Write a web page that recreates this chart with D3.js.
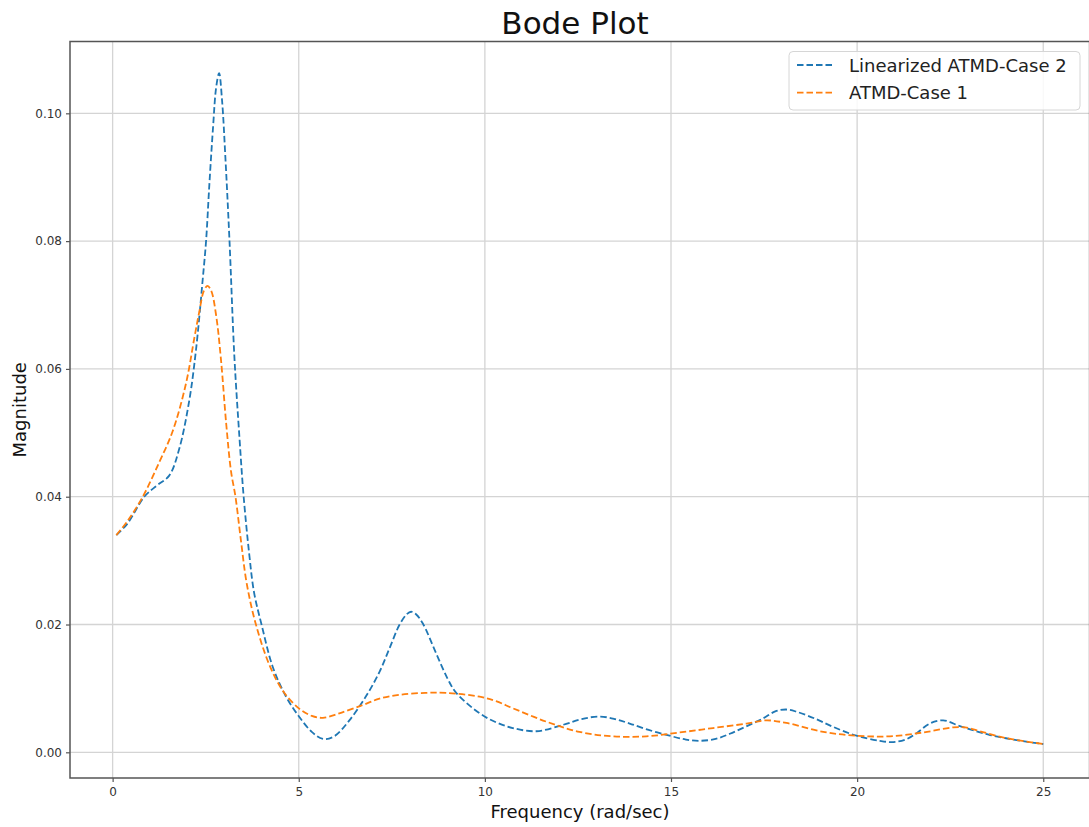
<!DOCTYPE html>
<html>
<head>
<meta charset="utf-8">
<script src="https://cdn.jsdelivr.net/npm/d3@7"></script>
<style>
  html, body { margin: 0; padding: 0; background: #fff; }
  svg { display: block; font-family: "DejaVu Sans", sans-serif; }
</style>
</head>
<body>
<svg id="chart" width="1089" height="827"></svg>
<script>
// Frequency response of the two damper configurations
const seriesNames = ["Linearized ATMD-Case 2", "ATMD-Case 1"];
const seriesColors = ["#1f77b4", "#ff7f0e"];

const freqCase2 = [0.1, 0.4, 0.85, 1.2, 1.52, 1.79, 2.06, 2.24, 2.42, 2.51, 2.6, 2.7, 2.78, 2.86, 2.94, 3.03, 3.14, 3.27, 3.41, 3.52, 3.67, 3.8, 4.0, 4.3, 4.66, 5.02, 5.35, 5.65, 5.95, 6.36, 6.81, 7.17, 7.44, 7.71, 7.9, 8.02, 8.15, 8.33, 8.69, 9.0, 9.23, 9.86, 10.3, 10.75, 11.38, 12.1, 12.6, 13.08, 13.5, 13.89, 14.4, 14.96, 15.4, 15.77, 16.2, 16.58, 17.0, 17.47, 17.8, 18.1, 18.4, 18.9, 19.35, 19.98, 20.61, 20.97, 21.3, 21.6, 21.95, 22.31, 22.76, 23.2, 23.57, 24.0, 24.5, 25.0];
const magCase2 = [0.0340, 0.0358, 0.0400, 0.0418, 0.0433, 0.0475, 0.0551, 0.0630, 0.0740, 0.0800, 0.0890, 0.0980, 0.1040, 0.1063, 0.1020, 0.0930, 0.0800, 0.0620, 0.0490, 0.0400, 0.0310, 0.0250, 0.0200, 0.0134, 0.0087, 0.0055, 0.0032, 0.0021, 0.0025, 0.0050, 0.0088, 0.0126, 0.0163, 0.0200, 0.0216, 0.0220, 0.0216, 0.0202, 0.0155, 0.0115, 0.0093, 0.0061, 0.0047, 0.0038, 0.0033, 0.0043, 0.0052, 0.0056, 0.0052, 0.0045, 0.0035, 0.0026, 0.0020, 0.0018, 0.0021, 0.0029, 0.0040, 0.0053, 0.0064, 0.0067, 0.0063, 0.0052, 0.0040, 0.0026, 0.0018, 0.0016, 0.0020, 0.0030, 0.0045, 0.0050, 0.0041, 0.0033, 0.0027, 0.0022, 0.0017, 0.0013];

const freqCase1 = [0.1, 0.4, 0.81, 1.26, 1.61, 1.97, 2.2, 2.33, 2.45, 2.55, 2.65, 2.78, 2.91, 3.05, 3.18, 3.3, 3.45, 3.6, 3.84, 4.21, 4.6, 5.02, 5.35, 5.65, 6.09, 6.72, 7.17, 7.71, 8.4, 8.96, 9.86, 10.3, 10.75, 11.65, 12.54, 13.44, 14.34, 15.23, 16.13, 17.03, 17.56, 18.1, 19.09, 19.98, 20.88, 21.77, 22.58, 22.9, 23.3, 24.02, 25.0];
const magCase1 = [0.0340, 0.0362, 0.0400, 0.0455, 0.0502, 0.0577, 0.0650, 0.0690, 0.0722, 0.0730, 0.0722, 0.0684, 0.0615, 0.0515, 0.0440, 0.0400, 0.0330, 0.0265, 0.0202, 0.0137, 0.0094, 0.0068, 0.0057, 0.0054, 0.0061, 0.0074, 0.0084, 0.0090, 0.0093, 0.0093, 0.0087, 0.0080, 0.0069, 0.0048, 0.0032, 0.0025, 0.0025, 0.0031, 0.0038, 0.0045, 0.0050, 0.0046, 0.0032, 0.0026, 0.0025, 0.0031, 0.0039, 0.0039, 0.0033, 0.0022, 0.0013];

const xTicks = [0, 5, 10, 15, 20, 25];
const yTicks = [0.00, 0.02, 0.04, 0.06, 0.08, 0.10];

const svg = d3.select("#chart");
const plot = { left: 70, right: 1089.6, top: 41.5, bottom: 778 };

const x = d3.scaleLinear().domain([-1.145, 26.245]).range([plot.left, plot.right]);
const y = d3.scaleLinear().domain([-0.00402, 0.11124]).range([plot.bottom, plot.top]);

const series = [
  { name: seriesNames[0], color: seriesColors[0], pts: freqCase2.map((f, i) => [f, magCase2[i]]) },
  { name: seriesNames[1], color: seriesColors[1], pts: freqCase1.map((f, i) => [f, magCase1[i]]) }
];

// grid
const grid = svg.append("g").attr("stroke", "#d4d4d4").attr("stroke-width", 1.3);
xTicks.forEach(t => grid.append("line")
  .attr("x1", x(t)).attr("x2", x(t)).attr("y1", plot.top).attr("y2", plot.bottom));
yTicks.forEach(t => grid.append("line")
  .attr("x1", plot.left).attr("x2", plot.right).attr("y1", y(t)).attr("y2", y(t)));

// curves
const line = d3.line().x(d => x(d[0])).y(d => y(d[1])).curve(d3.curveCatmullRom.alpha(0.5));
series.forEach(s => {
  svg.append("path")
    .attr("d", line(s.pts))
    .attr("fill", "none")
    .attr("stroke", s.color)
    .attr("stroke-width", 1.8)
    .attr("stroke-dasharray", "6.5,3");
});

// axes
const axisColor = "#555";
const xAxis = svg.append("g")
  .attr("transform", `translate(0,${plot.bottom})`)
  .call(d3.axisBottom(x).tickValues(xTicks).tickFormat(d3.format("d")).tickSize(4).tickPadding(5));
const yAxis = svg.append("g")
  .attr("transform", `translate(${plot.left},0)`)
  .call(d3.axisLeft(y).tickValues(yTicks).tickFormat(d3.format(".2f")).tickSize(4).tickPadding(4));
[xAxis, yAxis].forEach(a => {
  a.select(".domain").remove();
  a.selectAll(".tick line").attr("stroke", axisColor).attr("stroke-width", 1.2);
  a.selectAll(".tick text").attr("fill", "#333").style("font-size", "12px")
    .style("font-family", "DejaVu Sans, sans-serif");
});

// frame
svg.append("rect")
  .attr("x", plot.left).attr("y", plot.top)
  .attr("width", plot.right - plot.left).attr("height", plot.bottom - plot.top)
  .attr("fill", "none").attr("stroke", axisColor).attr("stroke-width", 1.5);

// title and axis labels
svg.append("text")
  .attr("x", 575).attr("y", 34)
  .attr("text-anchor", "middle").style("font-size", "31px").attr("fill", "#111")
  .text("Bode Plot");
svg.append("text")
  .attr("x", 580).attr("y", 818)
  .attr("text-anchor", "middle").style("font-size", "18px").attr("fill", "#111")
  .text("Frequency (rad/sec)");
svg.append("text")
  .attr("transform", `translate(26,${(plot.top + plot.bottom) / 2}) rotate(-90)`)
  .attr("text-anchor", "middle").style("font-size", "18px").attr("fill", "#111")
  .text("Magnitude");

// legend
const legend = svg.append("g");
legend.append("rect")
  .attr("x", 789).attr("y", 51.5).attr("width", 291).attr("height", 58.5)
  .attr("rx", 4).attr("fill", "#fff").attr("fill-opacity", 0.85)
  .attr("stroke", "#d6d6d6").attr("stroke-width", 1);
series.forEach((s, i) => {
  const ly = 65 + i * 27.7;
  legend.append("line")
    .attr("x1", 797).attr("x2", 833).attr("y1", ly).attr("y2", ly)
    .attr("stroke", s.color).attr("stroke-width", 1.8).attr("stroke-dasharray", "6.5,3");
  legend.append("text")
    .attr("x", 849).attr("y", ly + 6.5)
    .style("font-size", "18px").attr("fill", "#222")
    .text(s.name);
});
</script>
</body>
</html>
